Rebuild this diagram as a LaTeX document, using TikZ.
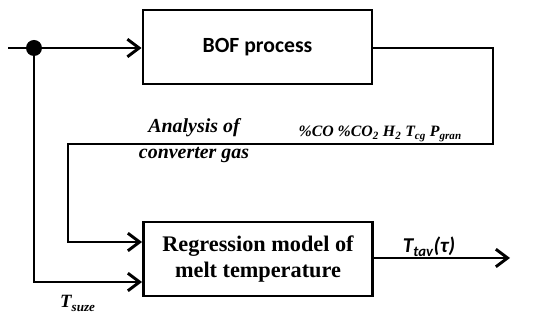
\documentclass[tikz,border=0pt]{standalone}
\usepackage{fontspec}
\setmainfont{Liberation Serif}
\newfontfamily\bofsans{Carlito}
\usetikzlibrary{arrows.meta}

\begin{document}
\begin{tikzpicture}[x=0.03cm, y=0.03cm,
    block/.style={draw, line width=2.5pt, minimum width=229*0.03cm, minimum height=74*0.03cm, inner sep=0pt, align=center},
    conn/.style={line width=2.5pt, -{Straight Barb[length=10pt, width=15pt, line width=2.5pt]}},
    wire/.style={line width=2.5pt},
    lbl/.style={font=\bfseries\itshape, inner sep=0pt}]
\useasboundingbox (0,0) rectangle (550,318);

% Blocks
\node[block, font=\bofsans\bfseries\fontsize{18.5}{21}\selectfont] (bof) at (257.5,271) {BOF process};
\node[block, font=\bfseries\fontsize{19}{22}\selectfont] (reg) at (258,59) {Regression model of\\melt temperature};

% Branch point and free ends
\coordinate (in) at (8,270);
\fill (34,270) circle (8) coordinate (dot);
\coordinate (out) at (510,60);

% Input to BOF process
\draw[wire] (in) -- (dot);
\draw[conn] (dot) -- (bof.west |- dot);

% Converter gas feedback
\draw[conn] (bof.east |- dot) -- (493,270) -- (493,174) -- (68,174) -- (68,76) -- (reg.west |- 0,76);

% Scrap temperature
\draw[conn] (dot) -- (34,36) -- (reg.west |- 0,36);

% Output
\draw[conn] (reg.east |- out) -- (out);

% Labels
\node[lbl, font=\bfseries\itshape\fontsize{17}{22}\selectfont, align=center] (gaslbl) at (194,177) {Analysis of\\converter gas};
\node[lbl, font=\bfseries\itshape\fontsize{13.5}{15}\selectfont, anchor=base east] (gasvars) at (462,181)
    {\%CO \%CO\textsubscript{2} H\textsubscript{2} T\textsubscript{cg} P\textsubscript{gran}};
\node[lbl, font=\bofsans\bfseries\itshape\fontsize{18}{20}\selectfont, anchor=base] (toutlbl) at (429,65) {T\textsubscript{tav}(τ)};
\node[lbl, font=\bfseries\itshape\fontsize{16}{18}\selectfont, anchor=base west] (tinlbl) at (60,10) {T\textsubscript{suze}};
\end{tikzpicture}
\end{document}
